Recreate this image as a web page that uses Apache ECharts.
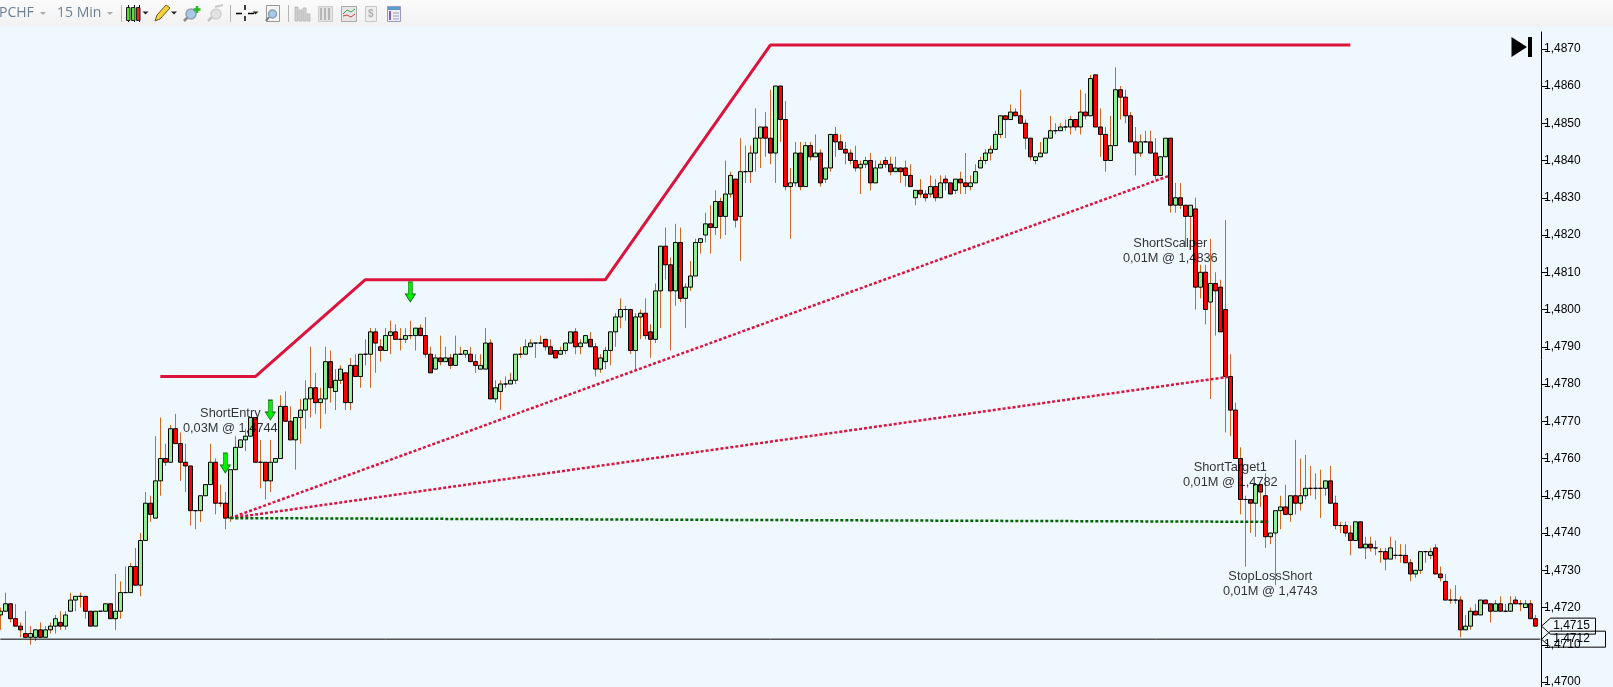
<!DOCTYPE html>
<html><head><meta charset="utf-8">
<style>html,body{margin:0;padding:0;background:#F0F8FF;overflow:hidden}#c{width:1613px;height:687px}</style>
<script src="https://cdn.jsdelivr.net/npm/echarts@6/dist/echarts.min.js"></script>
</head><body><div id="c"></div>
<script>
const opens=[1.4718,1.4719,1.4721,1.4717,1.4715,1.4713,1.4712,1.4712,1.4714,1.4712,
1.4714,1.4715,1.4716,1.4715,1.4719,1.4722,1.4723,1.4723,1.4719,1.4715,
1.4719,1.4719,1.4721,1.4717,1.4719,1.4724,1.4724,1.4731,1.4726,1.4738,
1.4748,1.4744,1.4754,1.4760,1.4759,1.4768,1.4764,1.4759,1.4758,1.4746,
1.4746,1.4750,1.4753,1.4759,1.4748,1.4748,1.4744,1.4757,1.4763,1.4765,
1.4766,1.4771,1.4759,1.4759,1.4754,1.4759,1.4760,1.4774,1.4770,1.4765,
1.4771,1.4773,1.4776,1.4779,1.4775,1.4776,1.4786,1.4778,1.4781,1.4783,
1.4775,1.4785,1.4782,1.4788,1.4788,1.4794,1.4790,1.4789,1.4793,1.4794,
1.4792,1.4792,1.4793,1.4793,1.4795,1.4793,1.4788,1.4784,1.4787,1.4786,
1.4787,1.4785,1.4788,1.4788,1.4788,1.4786,1.4784,1.4784,1.4791,1.4776,
1.4778,1.4780,1.4780,1.4781,1.4788,1.4788,1.4790,1.4791,1.4791,1.4792,
1.4790,1.4789,1.4788,1.4789,1.4791,1.4794,1.4790,1.4791,1.4792,1.4790,
1.4784,1.4786,1.4789,1.4794,1.4798,1.4800,1.4800,1.4789,1.4798,1.4799,
1.4794,1.4792,1.4805,1.4817,1.4812,1.4805,1.4818,1.4803,1.4806,1.4809,
1.4818,1.4820,1.4823,1.4822,1.4829,1.4825,1.4831,1.4835,1.4825,1.4837,
1.4837,1.4842,1.4846,1.4849,1.4846,1.4842,1.4860,1.4851,1.4833,1.4834,
1.4842,1.4833,1.4844,1.4841,1.4842,1.4835,1.4838,1.4847,1.4845,1.4843,
1.4842,1.4840,1.4838,1.4839,1.4840,1.4834,1.4838,1.4840,1.4839,1.4837,
1.4838,1.4838,1.4836,1.4830,1.4832,1.4831,1.4831,1.4833,1.4830,1.4835,
1.4834,1.4832,1.4835,1.4834,1.4833,1.4834,1.4838,1.4840,1.4842,1.4843,
1.4847,1.4852,1.4851,1.4853,1.4852,1.4850,1.4846,1.4840,1.4841,1.4842,
1.4846,1.4848,1.4848,1.4849,1.4849,1.4851,1.4849,1.4853,1.4852,1.4863,
1.4849,1.4847,1.4840,1.4844,1.4859,1.4857,1.4852,1.4845,1.4842,1.4845,
1.4845,1.4842,1.4836,1.4841,1.4846,1.4828,1.4830,1.4828,1.4825,1.4827,
1.4806,1.4810,1.4802,1.4807,1.4806,1.4800,1.4782,1.4773,1.4760,1.4749,
1.4749,1.4748,1.4753,1.4750,1.4739,1.4740,1.4746,1.4747,1.4745,1.4750,
1.4748,1.4750,1.4752,1.4752,1.4752,1.4752,1.4754,1.4748,1.4742,1.4742,
1.4740,1.4738,1.4743,1.4736,1.4737,1.4736,1.4735,1.4735,1.4733,1.4734,
1.4734,1.4734,1.4732,1.4729,1.4730,1.4735,1.4734,1.4736,1.4729,1.4727,
1.4722,1.4722,1.4722,1.4714,1.4715,1.4719,1.4718,1.4722,1.4721,1.4719,
1.4721,1.4719,1.4719,1.4722,1.4721,1.4720,1.4721,1.4717];
const closes=[1.4719,1.4721,1.4717,1.4715,1.4714,1.4712,1.4713,1.4714,1.4712,1.4714,
1.4715,1.4717,1.4715,1.4718,1.4722,1.4723,1.4723,1.4719,1.4715,1.4719,
1.4719,1.4721,1.4717,1.4719,1.4724,1.4724,1.4731,1.4726,1.4738,1.4748,
1.4745,1.4754,1.4760,1.4759,1.4768,1.4764,1.4759,1.4758,1.4746,1.4746,
1.4750,1.4753,1.4759,1.4748,1.4748,1.4744,1.4757,1.4763,1.4765,1.4766,
1.4771,1.4759,1.4759,1.4754,1.4759,1.4760,1.4774,1.4770,1.4765,1.4771,
1.4773,1.4776,1.4779,1.4775,1.4776,1.4786,1.4779,1.4781,1.4784,1.4775,
1.4785,1.4782,1.4788,1.4788,1.4794,1.4791,1.4789,1.4793,1.4794,1.4792,
1.4792,1.4793,1.4793,1.4795,1.4793,1.4788,1.4783,1.4787,1.4786,1.4787,
1.4785,1.4788,1.4788,1.4789,1.4786,1.4785,1.4785,1.4791,1.4776,1.4779,
1.4780,1.4780,1.4781,1.4788,1.4788,1.4790,1.4791,1.4791,1.4791,1.4790,
1.4788,1.4787,1.4789,1.4791,1.4794,1.4790,1.4791,1.4793,1.4790,1.4784,
1.4787,1.4789,1.4794,1.4798,1.4800,1.4800,1.4789,1.4798,1.4799,1.4793,
1.4792,1.4805,1.4817,1.4812,1.4805,1.4818,1.4803,1.4806,1.4809,1.4818,
1.4819,1.4823,1.4822,1.4829,1.4825,1.4831,1.4836,1.4824,1.4837,1.4837,
1.4842,1.4846,1.4849,1.4846,1.4842,1.4860,1.4851,1.4833,1.4834,1.4842,
1.4833,1.4844,1.4841,1.4842,1.4834,1.4838,1.4847,1.4845,1.4843,1.4842,
1.4840,1.4838,1.4839,1.4840,1.4834,1.4838,1.4839,1.4839,1.4837,1.4838,
1.4837,1.4836,1.4833,1.4832,1.4831,1.4830,1.4833,1.4830,1.4834,1.4834,
1.4831,1.4835,1.4834,1.4833,1.4834,1.4837,1.4840,1.4842,1.4843,1.4847,
1.4852,1.4851,1.4853,1.4852,1.4850,1.4846,1.4841,1.4841,1.4842,1.4846,
1.4848,1.4848,1.4849,1.4849,1.4851,1.4849,1.4853,1.4852,1.4862,1.4849,
1.4847,1.4840,1.4844,1.4859,1.4857,1.4852,1.4845,1.4842,1.4845,1.4845,
1.4842,1.4836,1.4841,1.4846,1.4828,1.4830,1.4828,1.4825,1.4828,1.4806,
1.4810,1.4800,1.4807,1.4805,1.4794,1.4782,1.4773,1.4760,1.4749,1.4749,
1.4748,1.4753,1.4751,1.4739,1.4740,1.4746,1.4747,1.4745,1.4750,1.4748,
1.4750,1.4752,1.4752,1.4752,1.4752,1.4754,1.4748,1.4742,1.4742,1.4740,
1.4738,1.4743,1.4736,1.4737,1.4736,1.4736,1.4735,1.4733,1.4736,1.4734,
1.4734,1.4732,1.4729,1.4730,1.4735,1.4735,1.4735,1.4729,1.4728,1.4722,
1.4722,1.4722,1.4714,1.4715,1.4719,1.4718,1.4722,1.4721,1.4719,1.4721,
1.4719,1.4719,1.4721,1.4721,1.4721,1.4721,1.4717,1.4715];
const lows=[1.4714,1.4719,1.4716,1.4715,1.4712,1.4712,1.4710,1.4711,1.4712,1.4712,
1.4713,1.4713,1.4714,1.4714,1.4719,1.4719,1.4720,1.4717,1.4715,1.4715,
1.4719,1.4719,1.4717,1.4714,1.4717,1.4724,1.4724,1.4726,1.4723,1.4738,
1.4743,1.4744,1.4750,1.4758,1.4759,1.4764,1.4754,1.4751,1.4742,1.4741,
1.4743,1.4750,1.4753,1.4745,1.4747,1.4741,1.4743,1.4757,1.4763,1.4762,
1.4766,1.4759,1.4752,1.4749,1.4751,1.4759,1.4760,1.4770,1.4765,1.4757,
1.4764,1.4768,1.4771,1.4772,1.4768,1.4772,1.4775,1.4773,1.4780,1.4773,
1.4773,1.4782,1.4779,1.4785,1.4779,1.4783,1.4786,1.4789,1.4788,1.4792,
1.4789,1.4791,1.4792,1.4789,1.4793,1.4787,1.4783,1.4784,1.4785,1.4786,
1.4784,1.4785,1.4788,1.4787,1.4786,1.4783,1.4784,1.4784,1.4776,1.4775,
1.4773,1.4779,1.4780,1.4780,1.4787,1.4788,1.4790,1.4787,1.4791,1.4789,
1.4788,1.4787,1.4788,1.4788,1.4791,1.4788,1.4788,1.4791,1.4790,1.4782,
1.4783,1.4784,1.4785,1.4790,1.4795,1.4797,1.4788,1.4784,1.4792,1.4792,
1.4787,1.4791,1.4795,1.4808,1.4789,1.4801,1.4802,1.4795,1.4805,1.4809,
1.4815,1.4818,1.4815,1.4820,1.4819,1.4820,1.4830,1.4822,1.4813,1.4834,
1.4834,1.4837,1.4838,1.4841,1.4839,1.4834,1.4845,1.4832,1.4819,1.4833,
1.4832,1.4833,1.4840,1.4841,1.4833,1.4834,1.4837,1.4841,1.4843,1.4839,
1.4839,1.4837,1.4831,1.4838,1.4832,1.4834,1.4838,1.4838,1.4836,1.4837,
1.4834,1.4833,1.4833,1.4828,1.4830,1.4829,1.4830,1.4829,1.4830,1.4832,
1.4831,1.4831,1.4831,1.4831,1.4832,1.4834,1.4838,1.4839,1.4840,1.4843,
1.4846,1.4846,1.4851,1.4852,1.4850,1.4843,1.4840,1.4839,1.4841,1.4842,
1.4846,1.4847,1.4848,1.4848,1.4847,1.4848,1.4847,1.4851,1.4852,1.4849,
1.4841,1.4837,1.4840,1.4844,1.4851,1.4850,1.4845,1.4836,1.4841,1.4845,
1.4842,1.4835,1.4836,1.4841,1.4826,1.4826,1.4827,1.4817,1.4816,1.4800,
1.4803,1.4796,1.4776,1.4793,1.4794,1.4767,1.4766,1.4760,1.4745,1.4731,
1.4740,1.4739,1.4747,1.4736,1.4737,1.4726,1.4741,1.4745,1.4743,1.4745,
1.4746,1.4749,1.4750,1.4749,1.4744,1.4750,1.4748,1.4741,1.4740,1.4739,
1.4734,1.4738,1.4736,1.4733,1.4735,1.4734,1.4732,1.4730,1.4733,1.4733,
1.4732,1.4732,1.4727,1.4728,1.4729,1.4732,1.4733,1.4729,1.4727,1.4722,
1.4721,1.4721,1.4712,1.4714,1.4714,1.4718,1.4718,1.4721,1.4716,1.4719,
1.4719,1.4719,1.4719,1.4721,1.4719,1.4720,1.4717,1.4715];
const highs=[1.4720,1.4724,1.4721,1.4721,1.4716,1.4719,1.4715,1.4714,1.4716,1.4715,
1.4716,1.4718,1.4719,1.4719,1.4724,1.4723,1.4724,1.4723,1.4719,1.4719,
1.4719,1.4721,1.4721,1.4729,1.4727,1.4731,1.4732,1.4736,1.4740,1.4751,
1.4750,1.4766,1.4771,1.4764,1.4769,1.4772,1.4767,1.4764,1.4758,1.4746,
1.4750,1.4753,1.4764,1.4760,1.4753,1.4751,1.4757,1.4766,1.4765,1.4768,
1.4771,1.4771,1.4765,1.4759,1.4765,1.4760,1.4777,1.4778,1.4774,1.4771,
1.4776,1.4781,1.4790,1.4783,1.4779,1.4790,1.4789,1.4784,1.4785,1.4783,
1.4787,1.4788,1.4788,1.4792,1.4795,1.4795,1.4792,1.4795,1.4797,1.4796,
1.4795,1.4795,1.4797,1.4795,1.4796,1.4798,1.4790,1.4788,1.4793,1.4790,
1.4788,1.4793,1.4790,1.4789,1.4790,1.4788,1.4788,1.4795,1.4792,1.4781,
1.4781,1.4782,1.4783,1.4788,1.4790,1.4792,1.4792,1.4791,1.4793,1.4792,
1.4792,1.4789,1.4790,1.4791,1.4794,1.4795,1.4792,1.4793,1.4794,1.4791,
1.4788,1.4790,1.4794,1.4799,1.4803,1.4801,1.4800,1.4799,1.4800,1.4803,
1.4796,1.4807,1.4817,1.4822,1.4814,1.4823,1.4822,1.4807,1.4813,1.4819,
1.4819,1.4826,1.4828,1.4832,1.4830,1.4840,1.4837,1.4835,1.4846,1.4844,
1.4844,1.4854,1.4849,1.4853,1.4859,1.4860,1.4860,1.4856,1.4838,1.4845,
1.4845,1.4845,1.4845,1.4847,1.4843,1.4838,1.4847,1.4849,1.4847,1.4845,
1.4843,1.4844,1.4840,1.4841,1.4842,1.4840,1.4840,1.4841,1.4841,1.4841,
1.4838,1.4840,1.4839,1.4832,1.4835,1.4832,1.4836,1.4835,1.4836,1.4836,
1.4834,1.4835,1.4837,1.4842,1.4836,1.4839,1.4841,1.4843,1.4844,1.4848,
1.4852,1.4852,1.4855,1.4854,1.4859,1.4851,1.4846,1.4841,1.4845,1.4846,
1.4852,1.4850,1.4850,1.4851,1.4852,1.4851,1.4859,1.4858,1.4863,1.4863,
1.4854,1.4849,1.4852,1.4865,1.4860,1.4859,1.4853,1.4849,1.4847,1.4848,
1.4848,1.4846,1.4841,1.4846,1.4846,1.4834,1.4834,1.4828,1.4828,1.4830,
1.4812,1.4812,1.4819,1.4810,1.4808,1.4824,1.4788,1.4775,1.4763,1.4750,
1.4749,1.4753,1.4753,1.4756,1.4740,1.4746,1.4750,1.4753,1.4750,1.4765,
1.4760,1.4761,1.4758,1.4756,1.4757,1.4754,1.4758,1.4750,1.4743,1.4743,
1.4742,1.4743,1.4743,1.4739,1.4739,1.4738,1.4736,1.4736,1.4739,1.4738,
1.4737,1.4737,1.4733,1.4730,1.4735,1.4735,1.4736,1.4737,1.4731,1.4729,
1.4725,1.4726,1.4723,1.4718,1.4720,1.4721,1.4722,1.4722,1.4721,1.4722,
1.4723,1.4721,1.4723,1.4723,1.4722,1.4722,1.4722,1.4718];
const categories=opens.map((_,i)=>i).concat(['']);
const tickValues=[1.47,1.471,1.472,1.473,1.474,1.475,1.476,1.477,1.478,1.479,1.48,1.481,1.482,1.483,1.484,1.485,1.486,1.487];
const stopLine=[[32,1.4782],[51,1.4782],[73,1.4808],[121,1.4808],[154,1.4871],[270,1.4871]];
const scalperTrade=[[46,1.4744],[234,1.4836]];
const targetTrade=[[46,1.4744],[246,1.4782]];
const stopTrade=[[46,1.4744],[254,1.4743]];
const crossLine=[[0,1.47115],[308,1.47115]];
const arrows=[[45,1.47588],[54,1.4773],[82,1.48047]];
const notes=[[46,1.47702,'ShortEntry\n0,03M @ 1,4744'],[234,1.48158,'ShortScalper\n0,01M @ 1,4836'],[246,1.47557,'ShortTarget1\n0,01M @ 1,4782'],[254,1.47263,'StopLossShort\n0,01M @ 1,4743']];
const priceTags=[[1.4715,'1,4715',46],[1.47115,'1,4712',56]];

const FONT='"Liberation Sans",Arial,sans-serif';
const fmt=v=>v.toFixed(4).replace('.',',');
const chart=echarts.init(document.getElementById('c'),null,{renderer:'canvas'});
function tb(){
  const g=[];
  const rect=(x,y,w,h,fill,stroke)=>g.push({type:'rect',z:100,shape:{x,y,width:w,height:h},style:{fill,stroke:stroke||null,lineWidth:1}});
  const line=(a,b,c,d,stroke,w)=>g.push({type:'line',z:100,shape:{x1:a,y1:b,x2:c,y2:d},style:{stroke,lineWidth:w||1}});
  const circ=(x,y,r,fill,stroke)=>g.push({type:'circle',z:100,shape:{cx:x,cy:y,r},style:{fill,stroke,lineWidth:1.5}});
  const caret=(x,y,c)=>g.push({type:'polygon',z:100,shape:{points:[[x-3,y-1.5],[x+3,y-1.5],[x,y+1.5]]},style:{fill:c||'#222'}});
  const txt=(x,y,t)=>g.push({type:'text',z:100,style:{x,y,text:t,fill:'#6d7f93',font:'14px "Open Sans",sans-serif',textVerticalAlign:'middle'}});
  g.push({type:'rect',z:99,shape:{x:0,y:0,width:1613,height:26.5},style:{fill:new echarts.graphic.LinearGradient(0,0,0,1,[{offset:0,color:'#fbfbfb'},{offset:1,color:'#f1f1f1'}])}});
  txt(-1,13,'PCHF');caret(43,13.5,'#aaa');txt(57,13,'15 Min');caret(110,13.5,'#aaa');
  [121,230,288].forEach(x=>line(x+.5,5,x+.5,22,'#b5b5b5'));
  line(128.5,5,128.5,22,'#111',1);line(134.5,5,134.5,22,'#111',1);line(139.5,5,139.5,22,'#111',1);
  rect(126.5,7.5,3.5,13,'#55dd33','#222');rect(131.5,7.5,3.5,13,'#55dd33','#222');rect(136.5,7.5,3.5,13,'#ee2222','#222');
  caret(145.5,13);
  g.push({type:'polygon',z:100,shape:{points:[[155,21],[157,15],[166,5],[170,8],[160,19]]},style:{fill:'#f6d33c',stroke:'#6b5a20',lineWidth:1}});
  caret(174,13);
  line(184,21,188,17,'#8a8a8a',2.5);circ(191,14,5,'#a9c9ea','#8f9fb0');line(197,6,197,13,'#22bb22',2.5);line(193.5,9.5,200.5,9.5,'#22bb22',2.5);
  line(208,21,213,16,'#c4c4c4',2.5);circ(216,14,5,'#e2e2e2','#cfcfcf');line(215,7,223,5,'#c9c9c9',2);
  line(236,13.5,242,13.5,'#000',1.5);line(248,13.5,254,13.5,'#000',1.5);line(245,5,245,10,'#000',1.5);line(245,16,245,21,'#000',1.5);caret(255.5,13);
  rect(266.5,5.5,13,16,'#f5f5f5','#999');circ(272.5,14,4,'#a9c9ea','#8f9fb0');line(266,21,269,17,'#777',2);
  [295,299,303,307].forEach((x,i)=>rect(x,[7,10,8,14][i],3,21-[7,10,8,14][i],'#cfcfcf','#bdbdbd'));
  rect(318.5,6.5,14,15,'#e2e2e2','#cccccc');[321,325,329].forEach(x=>line(x,8,x,20,'#b5b5b5',2));
  rect(341.5,6.5,15,15,'#e6e6e6','#aaaaaa');g.push({type:'polyline',z:100,shape:{points:[[343,14],[347,10],[351,12],[355,9]]},style:{stroke:'#3aa655',fill:null,lineWidth:1}});g.push({type:'polyline',z:100,shape:{points:[[343,16],[347,15],[351,17],[355,14]]},style:{stroke:'#cc4444',fill:null,lineWidth:1}});
  rect(365.5,6.5,11,15,'#eeeeee','#c8c8c8');g.push({type:'text',z:100,style:{x:368,y:14,text:'$',fill:'#b0b0b0',font:'bold 10px sans-serif',textVerticalAlign:'middle'}});
  rect(387.5,6.5,13,15,'#eeeef6','#9a9ab8');rect(388,7,12,3,'#5a9ad0');rect(389,11,2,9,'#8a5ac8');[13,16,19].forEach(y=>line(393,y,399,y,'#9a9ab8'));
  g.push({type:'polygon',z:90,shape:{points:[[1511.5,37],[1511.5,57],[1527,47]]},style:{fill:'#000'}});
  rect(1528,37,4,20,'#000');
  return g;
}
chart.setOption({
  animation:false,
  backgroundColor:'#F0F8FF',
  grid:{left:-2.17,width:1545,top:32,height:655,outerBoundsMode:'none'},
  xAxis:{type:'category',data:categories,show:false,boundaryGap:true},
  yAxis:{type:'value',position:'right',offset:-1.83,min:1.469866,max:1.48745,splitLine:{show:false},
    axisLine:{show:true,lineStyle:{color:'#000',width:1}},
    axisTick:{show:true,length:7,lineStyle:{color:'#000',width:1},customValues:tickValues},
    axisLabel:{customValues:tickValues,margin:3,color:'#000',fontFamily:FONT,fontSize:12,formatter:v=>fmt(v)}},
  graphic:tb(),
  series:[
    {name:'Wicks',type:'custom',z:2,silent:true,clip:true,
     data:lows.map((l,i)=>[i,l,highs[i]]),encode:{x:0,y:[1,2]},
     renderItem:(p,api)=>{const a=api.coord([api.value(0),api.value(1)]),b=api.coord([api.value(0),api.value(2)]);const x=Math.floor(a[0])+.5;
       return {type:'line',shape:{x1:x,y1:a[1],x2:x,y2:b[1]},style:{stroke:'#D2691E',lineWidth:1}};}},
    {name:'Bodies',type:'candlestick',z:3,barWidth:5,silent:true,
     data:opens.map((o,i)=>[o,closes[i],Math.min(o,closes[i]),Math.max(o,closes[i])]),
     itemStyle:{color:'#90EE90',color0:'#FF0000',borderColor:'#000',borderColor0:'#000',borderColorDoji:'#000',borderWidth:1}},
    {name:'Cross',type:'line',z:4,data:crossLine,showSymbol:false,silent:true,lineStyle:{color:'#000',width:1}},
    {name:'Stop',type:'line',z:5,data:stopLine,showSymbol:false,silent:true,lineStyle:{color:'#DC143C',width:3}},
    {name:'Scalper',type:'line',z:5,data:scalperTrade,showSymbol:false,silent:true,lineStyle:{color:'#DC143C',width:2.5,type:[3,2]}},
    {name:'Target',type:'line',z:5,data:targetTrade,showSymbol:false,silent:true,lineStyle:{color:'#DC143C',width:2.5,type:[3,2]}},
    {name:'StopTrade',type:'line',z:5,data:stopTrade,showSymbol:false,silent:true,lineStyle:{color:'#006400',width:2.5,type:[3,2]}},
    {name:'Arrows',type:'scatter',z:6,silent:true,data:arrows,symbol:'path://M3 0H7V12H10L5 20L0 12H3Z',symbolSize:[10,20],itemStyle:{color:'#00F000',borderColor:'#0A6A0A',borderWidth:.8,opacity:1}},
    {name:'Notes',type:'scatter',z:7,silent:true,data:notes,symbolSize:0,
     label:{show:true,position:'inside',formatter:p=>p.data[2],fontFamily:FONT,fontSize:12.8,lineHeight:15,color:'#000',align:'center',verticalAlign:'middle'}},
    {name:'Tags',type:'custom',z:8,silent:true,clip:false,data:priceTags,encode:{y:0},
     renderItem:(p,api)=>{
       const d=priceTags[p.dataIndex];const y=api.coord([0,d[0]])[1];const t=1541.5,l=1550.5,r=l+45+(d[2]-46);
       return {type:'group',children:[
         {type:'polygon',shape:{points:[[t,y],[l,y-8],[r,y-8],[r,y+8],[l,y+8]]},style:{fill:'none',stroke:'#000',lineWidth:1}},
         {type:'text',style:{x:l+21,y:y,text:d[1],fill:'#000',font:'12px '+FONT,textAlign:'center',textVerticalAlign:'middle'}}]};}}
  ]
});
</script></body></html>
